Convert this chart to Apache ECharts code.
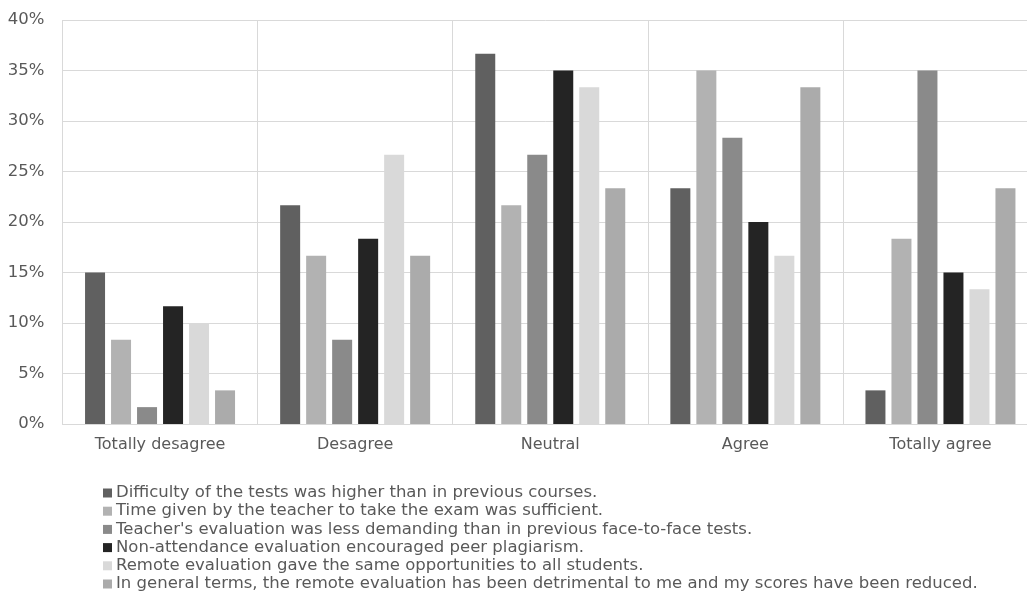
<!DOCTYPE html>
<html>
<head>
<meta charset="utf-8">
<script src="https://cdn.jsdelivr.net/npm/echarts@6/dist/echarts.min.js"></script>
<style>
html,body{margin:0;padding:0;background:#fff;}
#c{width:1027px;height:616px;}
</style>
</head>
<body>
<div id="c"></div>
<script>
const categories = ["Totally desagree", "Desagree", "Neutral", "Agree", "Totally agree"];
const seriesNames = [
  "Difficulty of the tests was higher than in previous courses.",
  "Time given by the teacher to take the exam was sufficient.",
  "Teacher's evaluation was less demanding than in previous face-to-face tests.",
  "Non-attendance evaluation encouraged peer plagiarism.",
  "Remote evaluation gave the same opportunities to all students.",
  "In general terms, the remote evaluation has been detrimental to me and my scores have been reduced."
];
const difficulty = [15.0, 21.67, 36.67, 23.33, 3.33];
const timeGiven = [8.33, 16.67, 21.67, 35.0, 18.33];
const lessDemanding = [1.67, 8.33, 26.67, 28.33, 35.0];
const plagiarism = [11.67, 18.33, 35.0, 20.0, 15.0];
const sameOpportunities = [10.0, 26.67, 33.33, 16.67, 13.33];
const detrimental = [3.33, 16.67, 23.33, 33.33, 23.33];
const yTicks = [0, 5, 10, 15, 20, 25, 30, 35, 40];

const seriesData = [difficulty, timeGiven, lessDemanding, plagiarism, sameOpportunities, detrimental];
const colors = ["#606060", "#b2b2b2", "#8a8a8a", "#242424", "#d9d9d9", "#ababab"];
const font = "'DejaVu Sans', sans-serif";

const chart = echarts.init(document.getElementById('c'), null, {renderer: 'canvas'});
chart.setOption({
  animation: false,
  color: colors,
  grid: {left: 62.5, width: 975.5, top: 20, bottom: 192, containLabel: false, outerBoundsMode: 'none'},
  xAxis: {
    type: 'category',
    data: categories,
    axisLine: {show: true, lineStyle: {color: '#d9d9d9', width: 1}},
    axisTick: {show: false},
    splitLine: {show: true, interval: 0, lineStyle: {color: '#d9d9d9', width: 1}},
    axisLabel: {color: '#595959', fontSize: 16, fontFamily: font, margin: 13, interval: 0}
  },
  yAxis: {
    type: 'value',
    min: yTicks[0],
    max: yTicks[yTicks.length - 1],
    interval: 5,
    axisLine: {show: false},
    axisTick: {show: false},
    splitLine: {show: true, lineStyle: {color: '#d9d9d9', width: 1}},
    axisLabel: {color: '#595959', fontSize: 16.5, fontFamily: font, margin: 18, formatter: v => v + '%'}
  },
  legend: {
    orient: 'vertical',
    left: 103,
    top: 484,
    icon: 'rect',
    itemWidth: 9,
    itemHeight: 9,
    itemGap: 0.2,
    padding: 0,
    textStyle: {color: '#595959', fontSize: 16.5, fontFamily: font, lineHeight: 18, padding: [0, 0, 0, -1]},
    data: seriesNames
  },
  series: seriesNames.map((n, i) => ({
    name: n,
    type: 'bar',
    data: seriesData[i],
    barWidth: 20,
    barGap: '30%',
    itemStyle: {color: colors[i]}
  }))
});
</script>
</body>
</html>
